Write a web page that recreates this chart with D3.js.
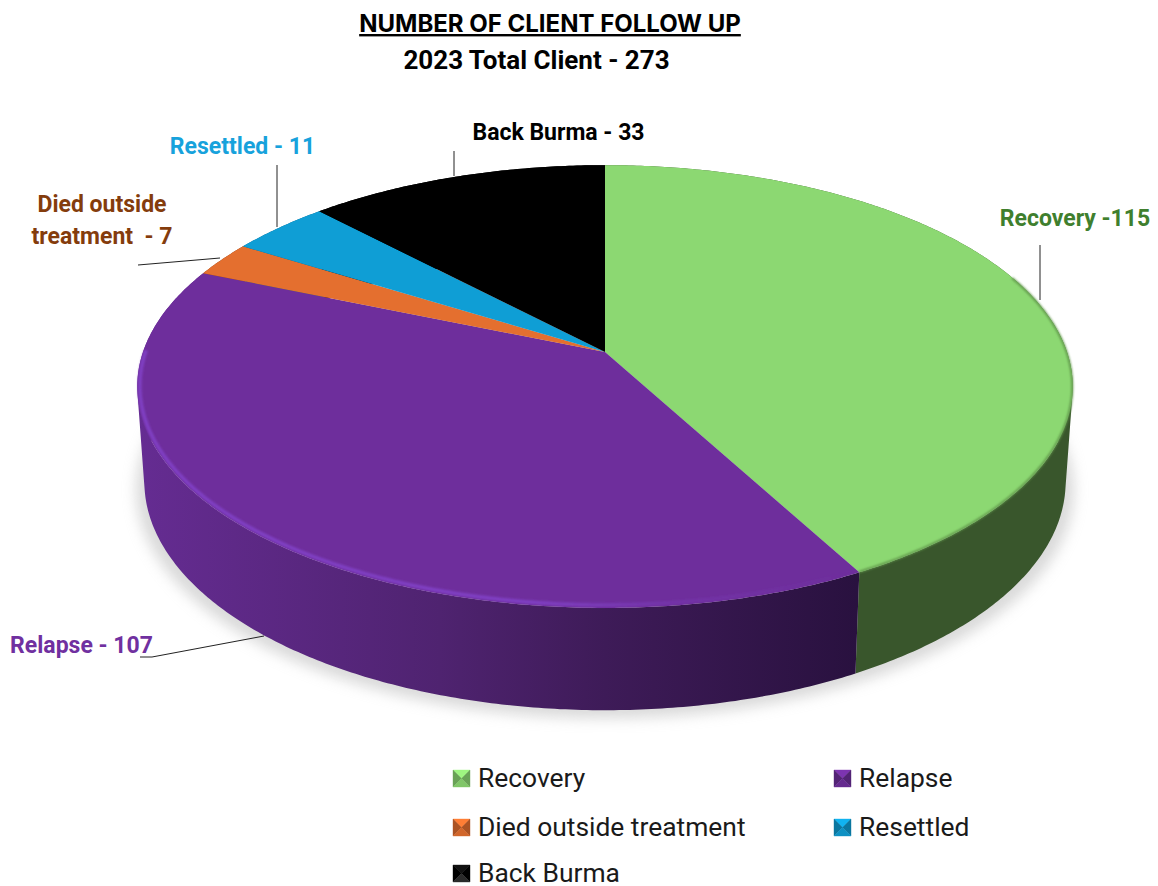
<!DOCTYPE html>
<html>
<head>
<meta charset="utf-8">
<script src="https://cdn.jsdelivr.net/npm/d3@7"></script>
<style>
  html, body { margin: 0; padding: 0; background: #fff; }
  svg { display: block; }
</style>
</head>
<body>
<div id="chart"></div>
<script>
const categories = ['Recovery', 'Relapse', 'Died outside treatment', 'Resettled', 'Back Burma']
const clients = [115, 107, 7, 11, 33]
const sliceColors = ['#8cd872', '#6e2e9c', '#e46f2f', '#0f9ed5', '#000000']
const wallColors = ['#39562c', 'url(#relapseWall)', '#7a3a18', '#0a5c80', '#000000']

const WIDTH = 1158
const HEIGHT = 886
const FONT = 'Roboto, "Noto Sans", sans-serif'

// the pie is a circle seen in perspective, k pulls the far side in
const k = 0.156
const topFace = { cx: 605, cy: 352, a: 462, b: 216 }
const bottomFace = { cx: 605, cy: 446, a: 455, b: 223 }

function project(theta, face) {
  const u = Math.sin(theta)
  const v = Math.cos(theta)
  const w = 1 + k * v
  return [face.cx + (face.a * u) / w, face.cy - (face.b * v) / w]
}

function arcPoints(start, end, face) {
  const steps = Math.max(2, Math.ceil((end - start) / 0.01))
  return d3.range(steps + 1).map(i => project(start + ((end - start) * i) / steps, face))
}

const line = d3.line()
const slices = d3.pie().sort(null).value(d => d)(clients)

// wall is a pile of small quads, all wound the same way so the overlaps near the
// left and right tangents stay filled
function wallPath(d) {
  const upper = arcPoints(d.startAngle, d.endAngle, topFace)
  const lower = arcPoints(d.startAngle, d.endAngle, bottomFace)
  let path = ''
  for (let i = 0; i < upper.length - 1; i++) {
    let quad = [upper[i], upper[i + 1], lower[i + 1], lower[i]]
    if (d3.polygonArea(quad) < 0) quad.reverse()
    path += line(quad) + 'Z'
  }
  return path
}

const svg = d3.select('#chart').append('svg').attr('width', WIDTH).attr('height', HEIGHT)
const defs = svg.append('defs')

const wallGradient = defs.append('linearGradient')
  .attr('id', 'relapseWall')
  .attr('gradientUnits', 'userSpaceOnUse')
  .attr('x1', 137).attr('x2', 857).attr('y1', 0).attr('y2', 0)
wallGradient.selectAll('stop')
  .data([[0, '#652c92'], [0.42, '#4f2370'], [0.65, '#3e1b58'], [1, '#29113f']])
  .join('stop')
  .attr('offset', d => d[0])
  .attr('stop-color', d => d[1])

const rimGradient = defs.append('linearGradient')
  .attr('id', 'relapseRim')
  .attr('gradientUnits', 'userSpaceOnUse')
  .attr('x1', 137).attr('x2', 857).attr('y1', 0).attr('y2', 0)
rimGradient.selectAll('stop')
  .data([[0, 1], [0.55, 1], [0.75, 0.3], [1, 0]])
  .join('stop')
  .attr('offset', d => d[0])
  .attr('stop-color', '#8040c4')
  .attr('stop-opacity', d => d[1])

defs.append('filter').attr('id', 'shadowBlur')
  .attr('x', '-10%').attr('y', '-10%').attr('width', '120%').attr('height', '120%')
  .append('feGaussianBlur').attr('stdDeviation', 7)
defs.append('filter').attr('id', 'rimBlur')
  .attr('x', '-5%').attr('y', '-5%').attr('width', '110%').attr('height', '110%')
  .append('feGaussianBlur').attr('stdDeviation', 1)

// soft shadow under the pie
svg.append('path')
  .attr('d', line(arcPoints(0, 2 * Math.PI, { ...bottomFace, cy: bottomFace.cy + 8, a: bottomFace.a + 8 })) + 'Z')
  .attr('fill', '#b4b4b4')
  .attr('opacity', 0.5)
  .attr('filter', 'url(#shadowBlur)')

// side walls
svg.append('g').selectAll('path')
  .data(slices)
  .join('path')
  .attr('d', wallPath)
  .attr('fill', (d, i) => wallColors[i])

// top faces
svg.append('g').selectAll('path')
  .data(slices)
  .join('path')
  .attr('d', d => line([[topFace.cx, topFace.cy], ...arcPoints(d.startAngle, d.endAngle, topFace)]) + 'Z')
  .attr('fill', (d, i) => sliceColors[i])

// bevel on the front edge
const recovery = slices[0]
const relapse = slices[1]
svg.append('path')
  .attr('d', line(arcPoints(1.2, recovery.endAngle, { ...topFace, a: topFace.a - 0.5, b: topFace.b - 0.5 })))
  .attr('fill', 'none')
  .attr('stroke', '#5f9449')
  .attr('stroke-width', 2)
  .attr('filter', 'url(#rimBlur)')
svg.append('path')
  .attr('d', line(arcPoints(relapse.startAngle, 4.72, { ...topFace, a: topFace.a - 2.5, b: topFace.b - 2.5 })))
  .attr('fill', 'none')
  .attr('stroke', 'url(#relapseRim)')
  .attr('stroke-width', 3.5)
  .attr('filter', 'url(#rimBlur)')

// leader lines
const leaders = [
  [[1040, 245], [1040, 300]],
  [[454, 151], [454, 176]],
  [[277, 165], [277, 227]],
  [[138, 265], [220, 258]],
  [[140, 657], [152, 657], [264, 636]],
]
svg.append('g').selectAll('path')
  .data(leaders)
  .join('path')
  .attr('d', d => line(d))
  .attr('fill', 'none')
  .attr('stroke', '#222')
  .attr('stroke-width', 1)

// titles
svg.append('text')
  .attr('x', 550)
  .attr('y', 32)
  .attr('text-anchor', 'middle')
  .style('font-family', 'Inter, Roboto, sans-serif')
  .style('font-size', '24px')
  .style('font-weight', 700)
  .style('text-decoration', 'underline')
  .text('NUMBER OF CLIENT FOLLOW UP')
svg.append('text')
  .attr('x', 536.5)
  .attr('y', 69)
  .attr('text-anchor', 'middle')
  .style('font-family', FONT)
  .style('font-size', '26px')
  .style('font-weight', 700)
  .text('2023 Total Client - 273')

// data labels
const labels = [
  { text: ['Recovery -115'], x: 1075, y: 226, color: '#3f7f2e' },
  { text: ['Relapse - 107'], x: 81.5, y: 653, color: '#7030a0' },
  { text: ['Died outside', 'treatment  - 7'], x: 102, y: 212, color: '#843c0c' },
  { text: ['Resettled - 11'], x: 242.5, y: 154, color: '#17a2dc' },
  { text: ['Back Burma - 33'], x: 558.5, y: 140, color: '#000000' },
]
labels.forEach(l => {
  svg.append('text')
    .attr('text-anchor', 'middle')
    .style('font-family', FONT)
    .style('font-size', '23px')
    .style('font-weight', 700)
    .style('white-space', 'pre')
    .attr('fill', l.color)
    .selectAll('tspan')
    .data(l.text)
    .join('tspan')
    .attr('x', l.x)
    .attr('y', (d, i) => l.y + i * 32)
    .text(d => d)
})

// legend with the little pyramid swatches
const legendSpots = [[453, 787], [834, 787], [453, 836], [834, 836], [453, 882]]
const SW = 17
categories.forEach((name, i) => {
  const [x, y] = legendSpots[i]
  const base = d3.color(sliceColors[i])
  const mid = [x + SW / 2, y - SW / 2]
  const tl = [x, y - SW]
  const tr = [x + SW, y - SW]
  const bl = [x, y]
  const br = [x + SW, y]
  const isBlack = sliceColors[i] === '#000000'
  const faces = [
    [[tl, tr, mid], isBlack ? '#111' : base.brighter(0.35)],
    [[tl, bl, mid], isBlack ? '#000' : base.darker(0.8)],
    [[tr, br, mid], isBlack ? '#000' : base.darker(0.8)],
    [[bl, br, mid], isBlack ? '#2a2a2a' : base.darker(0.25)],
  ]
  svg.append('g').selectAll('path')
    .data(faces)
    .join('path')
    .attr('d', d => line(d[0]) + 'Z')
    .attr('fill', d => d[1])
    .attr('stroke', d => d[1])
    .attr('stroke-width', 0.4)
  svg.append('text')
    .attr('x', x + 25)
    .attr('y', y)
    .attr('fill', '#1a1a1a')
    .style('font-family', FONT)
    .style('font-size', '26.4px')
    .text(name)
})
</script>
</body>
</html>
